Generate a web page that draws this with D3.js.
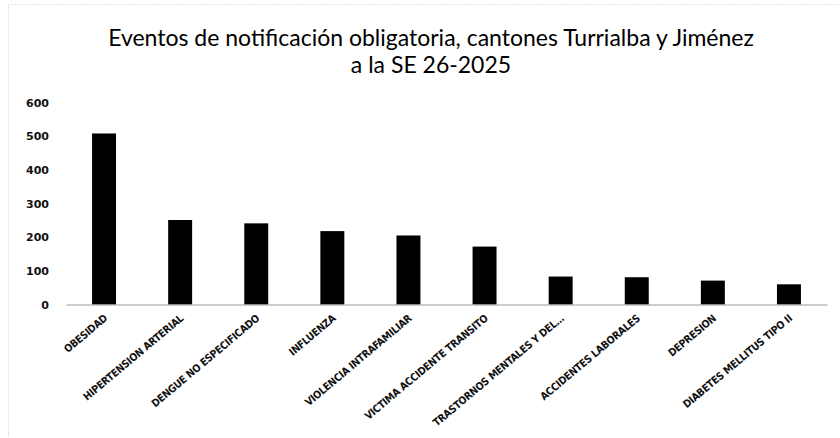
<!DOCTYPE html>
<html>
<head>
<meta charset="utf-8">
<script src="https://cdn.jsdelivr.net/npm/d3@7/dist/d3.min.js"></script>
<style>
  html, body { margin: 0; padding: 0; background: #fff; }
  svg { display: block; }
</style>
</head>
<body>
<svg id="chart" width="840" height="438"></svg>
<script>
// Notifiable events, Turrialba and Jiménez cantons, epi week 26-2025
const categories = [
  "OBESIDAD",
  "HIPERTENSION ARTERIAL",
  "DENGUE NO ESPECIFICADO",
  "INFLUENZA",
  "VIOLENCIA INTRAFAMILIAR",
  "VICTIMA ACCIDENTE TRANSITO",
  "TRASTORNOS MENTALES Y DEL…",
  "ACCIDENTES LABORALES",
  "DEPRESION",
  "DIABETES MELLITUS TIPO II"
];
const casos = [508, 251, 241, 218, 205, 172, 83, 81, 71, 60];
const yTicks = [0, 100, 200, 300, 400, 500, 600];
const titleLines = [
  "Eventos de notificación obligatoria, cantones Turrialba y Jiménez",
  "a la SE 26-2025"
];

const svg = d3.select("#chart");
const W = 840, H = 438;
const plot = { left: 66, right: 827, top: 102.5, bottom: 304.5 };

// chart frame
svg.append("rect")
  .attr("x", 8.5).attr("y", 4.5)
  .attr("width", W).attr("height", H)
  .attr("fill", "none")
  .attr("stroke", "#c8c8c8")
  .attr("stroke-width", 1)
  .attr("stroke-dasharray", "1,2");

// title
const title = svg.append("text")
  .attr("text-anchor", "middle")
  .attr("font-family", "Lato, 'Open Sans', sans-serif")
  .attr("font-size", 23)
  .attr("fill", "#000");
titleLines.forEach((t, i) => {
  title.append("tspan").attr("x", 431).attr("y", 46 + i * 27).text(t);
});

const x = d3.scaleBand()
  .domain(categories)
  .range([plot.left, plot.right])
  .paddingInner(0.685)
  .paddingOuter(0.3425);

const y = d3.scaleLinear()
  .domain([0, 600])
  .range([plot.bottom, plot.top]);

// y axis labels only
const yAxis = d3.axisLeft(y).tickValues(yTicks).tickSize(0).tickPadding(0);
const gy = svg.append("g")
  .attr("transform", `translate(49,0)`)
  .call(yAxis);
gy.select(".domain").remove();
gy.selectAll("text")
  .attr("font-family", "'DejaVu Sans', sans-serif")
  .attr("font-weight", "bold")
  .attr("font-size", 11)
  .attr("fill", "#111");

// bars
svg.append("g")
  .selectAll("rect")
  .data(categories)
  .join("rect")
  .attr("x", d => x(d))
  .attr("width", x.bandwidth())
  .attr("y", (d, i) => y(casos[i]))
  .attr("height", (d, i) => y(0) - y(casos[i]))
  .attr("fill", "#000");

// x axis baseline and rotated category labels
const xAxis = d3.axisBottom(x).tickSize(0).tickPadding(0);
const gx = svg.append("g")
  .attr("transform", `translate(0,${plot.bottom})`)
  .call(xAxis);
gx.select(".domain")
  .attr("stroke", "#9a9a9a")
  .attr("stroke-width", 1);
gx.selectAll(".tick text")
  .attr("font-family", "'DejaVu Sans Condensed', 'DejaVu Sans', sans-serif")
  .attr("font-weight", "bold")
  .attr("font-size", 10.5)
  .attr("letter-spacing", -0.3)
  .attr("fill", "#111")
  .attr("text-anchor", "end")
  .attr("dy", 0)
  .attr("transform", "translate(4,15) rotate(-40)");
</script>
</body>
</html>
